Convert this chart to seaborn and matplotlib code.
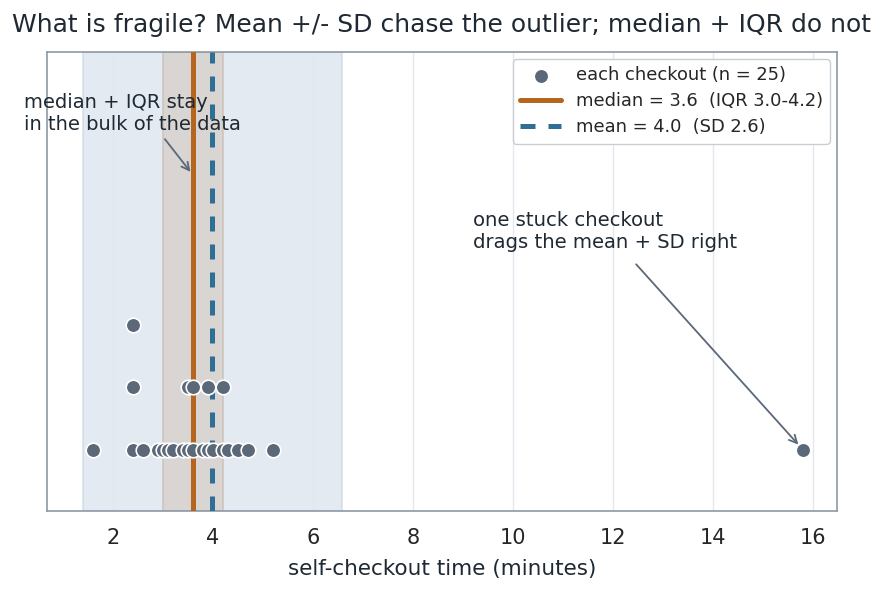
import numpy as np
import pandas as pd
import matplotlib
matplotlib.use("Agg")
import matplotlib.pyplot as plt
import seaborn as sns

# ---- data (minutes) ----
times = [1.6, 2.4, 2.4, 2.4, 2.6, 2.9, 3.0, 3.1, 3.2, 3.4, 3.5, 3.5, 3.6,
         3.6, 3.8, 3.9, 3.9, 4.0, 4.2, 4.2, 4.3, 4.5, 4.7, 5.2, 15.8]
title = "What is fragile? Mean +/- SD chase the outlier; median + IQR do not"
xlabel = "self-checkout time (minutes)"
note_median = "median + IQR stay\nin the bulk of the data"
note_outlier = "one stuck checkout\ndrags the mean + SD right"

arr = np.array(times)
med = np.median(arr)
q1, q3 = np.percentile(arr, [25, 75])
mean = arr.mean()
sd = arr.std(ddof=1)

# stack level for repeated values
seen = {}
levels = []
for v in times:
    k = round(v, 1)
    levels.append(seen.get(k, 0))
    seen[k] = seen.get(k, 0) + 1
df = pd.DataFrame({"time": times, "level": levels})

sns.set_theme(style="white")
plt.rcParams['font.family'] = ['DejaVu Sans']

DOT = "#5b6878"
MED = "#b5651d"
MEAN = "#2e6f96"
SPINE = "#8d99a6"
TXT = "#1f2933"

fig = plt.figure(figsize=(8.84, 5.96), dpi=100)
ax = fig.add_axes([47 / 884, 1 - 511 / 596, (837 - 47) / 884, (511 - 52) / 596])

# bands
ax.axvspan(mean - sd, mean + sd, facecolor="#c9d7e6", edgecolor="#b9cadb",
           alpha=0.5, lw=1.2, zorder=0)
ax.axvspan(q1, q3, facecolor="#d6cfc8", edgecolor="#c8bcb0", alpha=0.75, lw=1.2, zorder=1)

ax.axvline(med, color=MED, lw=3.6, zorder=3,
           label=f"median = {med:.1f}  (IQR {q1:.1f}-{q3:.1f})")
ax.axvline(mean, color=MEAN, lw=3.6, ls=(0, (3.0, 2.6)), zorder=3,
           label=f"mean = {mean:.1f}  (SD {sd:.1f})")

sns.scatterplot(data=df, x="time", y="level", ax=ax, color=DOT, s=110,
                edgecolor="white", linewidth=1.2, zorder=5,
                label=f"each checkout (n = {len(times)})")

ax.set_xlim(0.68, 16.48)
ax.set_ylim(-0.98, 6.37)
ax.set_yticks([])
ax.set_ylabel("")
ax.set_xticks([2, 4, 6, 8, 10, 12, 14, 16])
ax.tick_params(axis="x", labelsize=15, length=0, color=SPINE, bottom=True, pad=12.5)
ax.set_xlabel(xlabel, fontsize=15.5, color=TXT, labelpad=7.5)
ax.grid(axis="x", color="#e3e8ee", lw=1, zorder=-1)
ax.set_axisbelow(True)
for s in ax.spines.values():
    s.set_color(SPINE)
    s.set_linewidth(1.2)

fig.text(0.5, 1 - 25 / 596, title, ha="center", va="center", fontsize=18, color=TXT)

ax.annotate(note_median, xy=(3.55, 4.45), xytext=(0.22, 5.39),
            fontsize=14, color=TXT, ha="left", va="center",
            annotation_clip=False,
            arrowprops=dict(arrowstyle="->", color=DOT, lw=1.3,
                            shrinkA=2, shrinkB=0, relpos=(0.63, 0.0)))
ax.annotate(note_outlier, xy=(15.8, 0.0), xytext=(9.2, 3.5),
            fontsize=14.1, color=TXT, ha="left", va="center",
            arrowprops=dict(arrowstyle="->", color=DOT, lw=1.3,
                            shrinkA=9, shrinkB=5, relpos=(0.575, 0.0)))

h, l = ax.get_legend_handles_labels()
order = [l.index(x) for x in l if x.startswith("each")] + \
        [l.index(x) for x in l if x.startswith("median")] + \
        [l.index(x) for x in l if x.startswith("mean")]
leg = ax.legend([h[i] for i in order], [l[i] for i in order], loc="upper right",
                fontsize=12.9, frameon=True, borderpad=0.4, handlelength=2.3,
                labelspacing=0.45, borderaxespad=0.4, bbox_to_anchor=(1.0, 1.0))
leg.get_frame().set_edgecolor("#c9ced4")
leg.get_frame().set_alpha(1)

fig.savefig("out.png", dpi=100)
